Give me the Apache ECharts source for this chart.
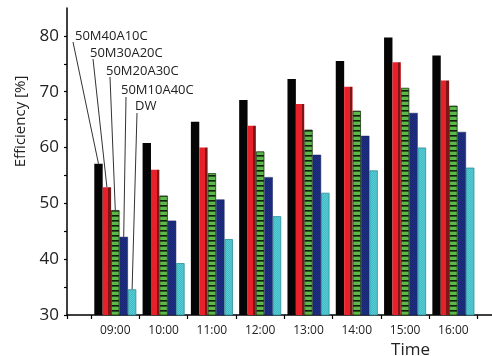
<!DOCTYPE html>
<html><head><meta charset="utf-8">
<script src="https://cdn.jsdelivr.net/npm/echarts@6/dist/echarts.min.js"></script>
<style>html,body{margin:0;padding:0;background:#fff}#c{width:492px;height:356px}</style>
</head><body><div id="c"></div>
<script>
const times = ['09:00','10:00','11:00','12:00','13:00','14:00','15:00','16:00'];
const hours = [9,10,11,12,13,14,15,16];
const seriesNames = ['50M40A10C','50M30A20C','50M20A30C','50M10A40C','DW'];
const s50M40A10C = [57.1,60.8,64.6,68.5,72.3,75.5,79.7,76.5];
const s50M30A20C = [52.9,56.0,60.0,63.9,67.8,70.9,75.3,72.0];
const s50M20A30C = [48.8,51.4,55.4,59.3,63.2,66.6,70.7,67.5];
const s50M10A40C = [44.0,46.9,50.7,54.7,58.7,62.1,66.2,62.8];
const sDW = [34.6,39.3,43.6,47.7,51.9,55.9,60.0,56.4];
const yTickValues = [30,35,40,45,50,55,60,65,70,75,80];
const yLabelValues = [30,40,50,60,70,80];
const xTickValues = [8,8.5,9.5,10.5,11.5,12.5,13.5,14.5,15.5,16.5];

function pat(w,h,draw){const c=document.createElement('canvas');c.width=w;c.height=h;draw(c.getContext('2d'));return c;}
const greenPat = pat(4,5,g=>{g.fillStyle='#5cb848';g.fillRect(0,0,4,5);g.fillStyle='#0f1e0b';g.fillRect(0,0,4,1);g.fillStyle='#2c5622';g.fillRect(0,1,4,1);});
const bluePat = pat(2,2,g=>{g.fillStyle='#1f3188';g.fillRect(0,0,2,2);g.fillStyle='#17266c';g.fillRect(0,0,1,1);g.fillRect(1,1,1,1);});
const cyanPat = pat(2,2,g=>{g.fillStyle='#3dbdc7';g.fillRect(0,0,2,2);g.fillStyle='#5ccad2';g.fillRect(0,0,1,1);g.fillRect(1,1,1,1);});
const redGrad = {type:'linear',x:0,y:0,x2:1,y2:0,colorStops:[
  {offset:0,color:'#e8202a'},{offset:0.68,color:'#e8202a'},
  {offset:0.68,color:'#7d1616'},{offset:0.93,color:'#7d1616'},
  {offset:0.93,color:'#c41c22'},{offset:1,color:'#c41c22'}]};

const valueSets = [s50M40A10C,s50M30A20C,s50M20A30C,s50M10A40C,sDW];
const styles = [
  {color:'#050505'},
  {color:redGrad},
  {color:{image:greenPat,repeat:'repeat'},borderColor:'#1c3514',borderWidth:0.8},
  {color:{image:bluePat,repeat:'repeat'},borderColor:'#141f5a',borderWidth:0.5},
  {color:{image:cyanPat,repeat:'repeat'},borderColor:'#2a8e98',borderWidth:0.8}
];
const FONT = '"Open Sans", "DejaVu Sans", sans-serif';

const chart = echarts.init(document.getElementById('c'));
chart.setOption({
  animation:false,
  backgroundColor:'#fff',
  grid:{left:67,right:0,top:8,bottom:41,containLabel:false,outerBoundsMode:'none'},
  xAxis:{
    type:'value',min:8,max:16.8,interval:1,
    name:'Time',nameLocation:'middle',nameGap:25,
    nameTextStyle:{fontFamily:FONT,fontSize:17,color:'#222',padding:[0,0,0,262]},
    axisLine:{show:true,lineStyle:{color:'#000',width:1.5}},
    axisTick:{show:true,inside:false,length:4,lineStyle:{color:'#000',width:1.2},customValues:xTickValues},
    axisLabel:{show:true,margin:10,fontFamily:FONT,fontSize:12,color:'#222',customValues:hours,
      formatter:v=>{const i=hours.indexOf(v);return i>=0?times[i]:'';}},
    splitLine:{show:false}
  },
  yAxis:{
    type:'value',min:30,max:85,interval:5,
    name:'Efficiency [%]',nameLocation:'middle',nameGap:37,
    nameTextStyle:{fontFamily:FONT,fontSize:15,color:'#222',padding:[0,0,0,80]},
    axisLine:{show:true,lineStyle:{color:'#000',width:1.5}},
    axisTick:{show:true,inside:false,length:3,lineStyle:{color:'#000',width:1.2},customValues:yTickValues},
    axisLabel:{show:true,margin:8,fontFamily:FONT,fontSize:17,color:'#222',customValues:yLabelValues},
    splitLine:{show:false}
  },
  series:seriesNames.map((n,i)=>({
    name:n,type:'bar',barGap:'0%',barCategoryGap:'13%',
    data:valueSets[i].map((v,j)=>[hours[j],v]),
    itemStyle:styles[i]
  }))
});

const labelPos = [[75,36],[90,53],[106,71],[121,90],[135,106]];
const lineStart = [[73,42],[93,59],[110,77],[126,97],[137,113]];
const model = chart.getModel();
const gs = [];
seriesNames.forEach((n,i)=>{
  const lay = model.getSeriesByIndex(i).getData().getItemLayout(0);
  const ex = lay.x + lay.width/2;
  const ey = Math.min(lay.y, lay.y + lay.height);
  gs.push({type:'line',z:100,shape:{x1:lineStart[i][0],y1:lineStart[i][1],x2:ex,y2:ey},style:{stroke:'#333',lineWidth:1}});
  gs.push({type:'text',z:100,x:labelPos[i][0],y:labelPos[i][1],style:{text:n,font:'13px '+FONT,fill:'#222',verticalAlign:'middle',align:'left'}});
});
chart.setOption({graphic:gs});
</script></body></html>
